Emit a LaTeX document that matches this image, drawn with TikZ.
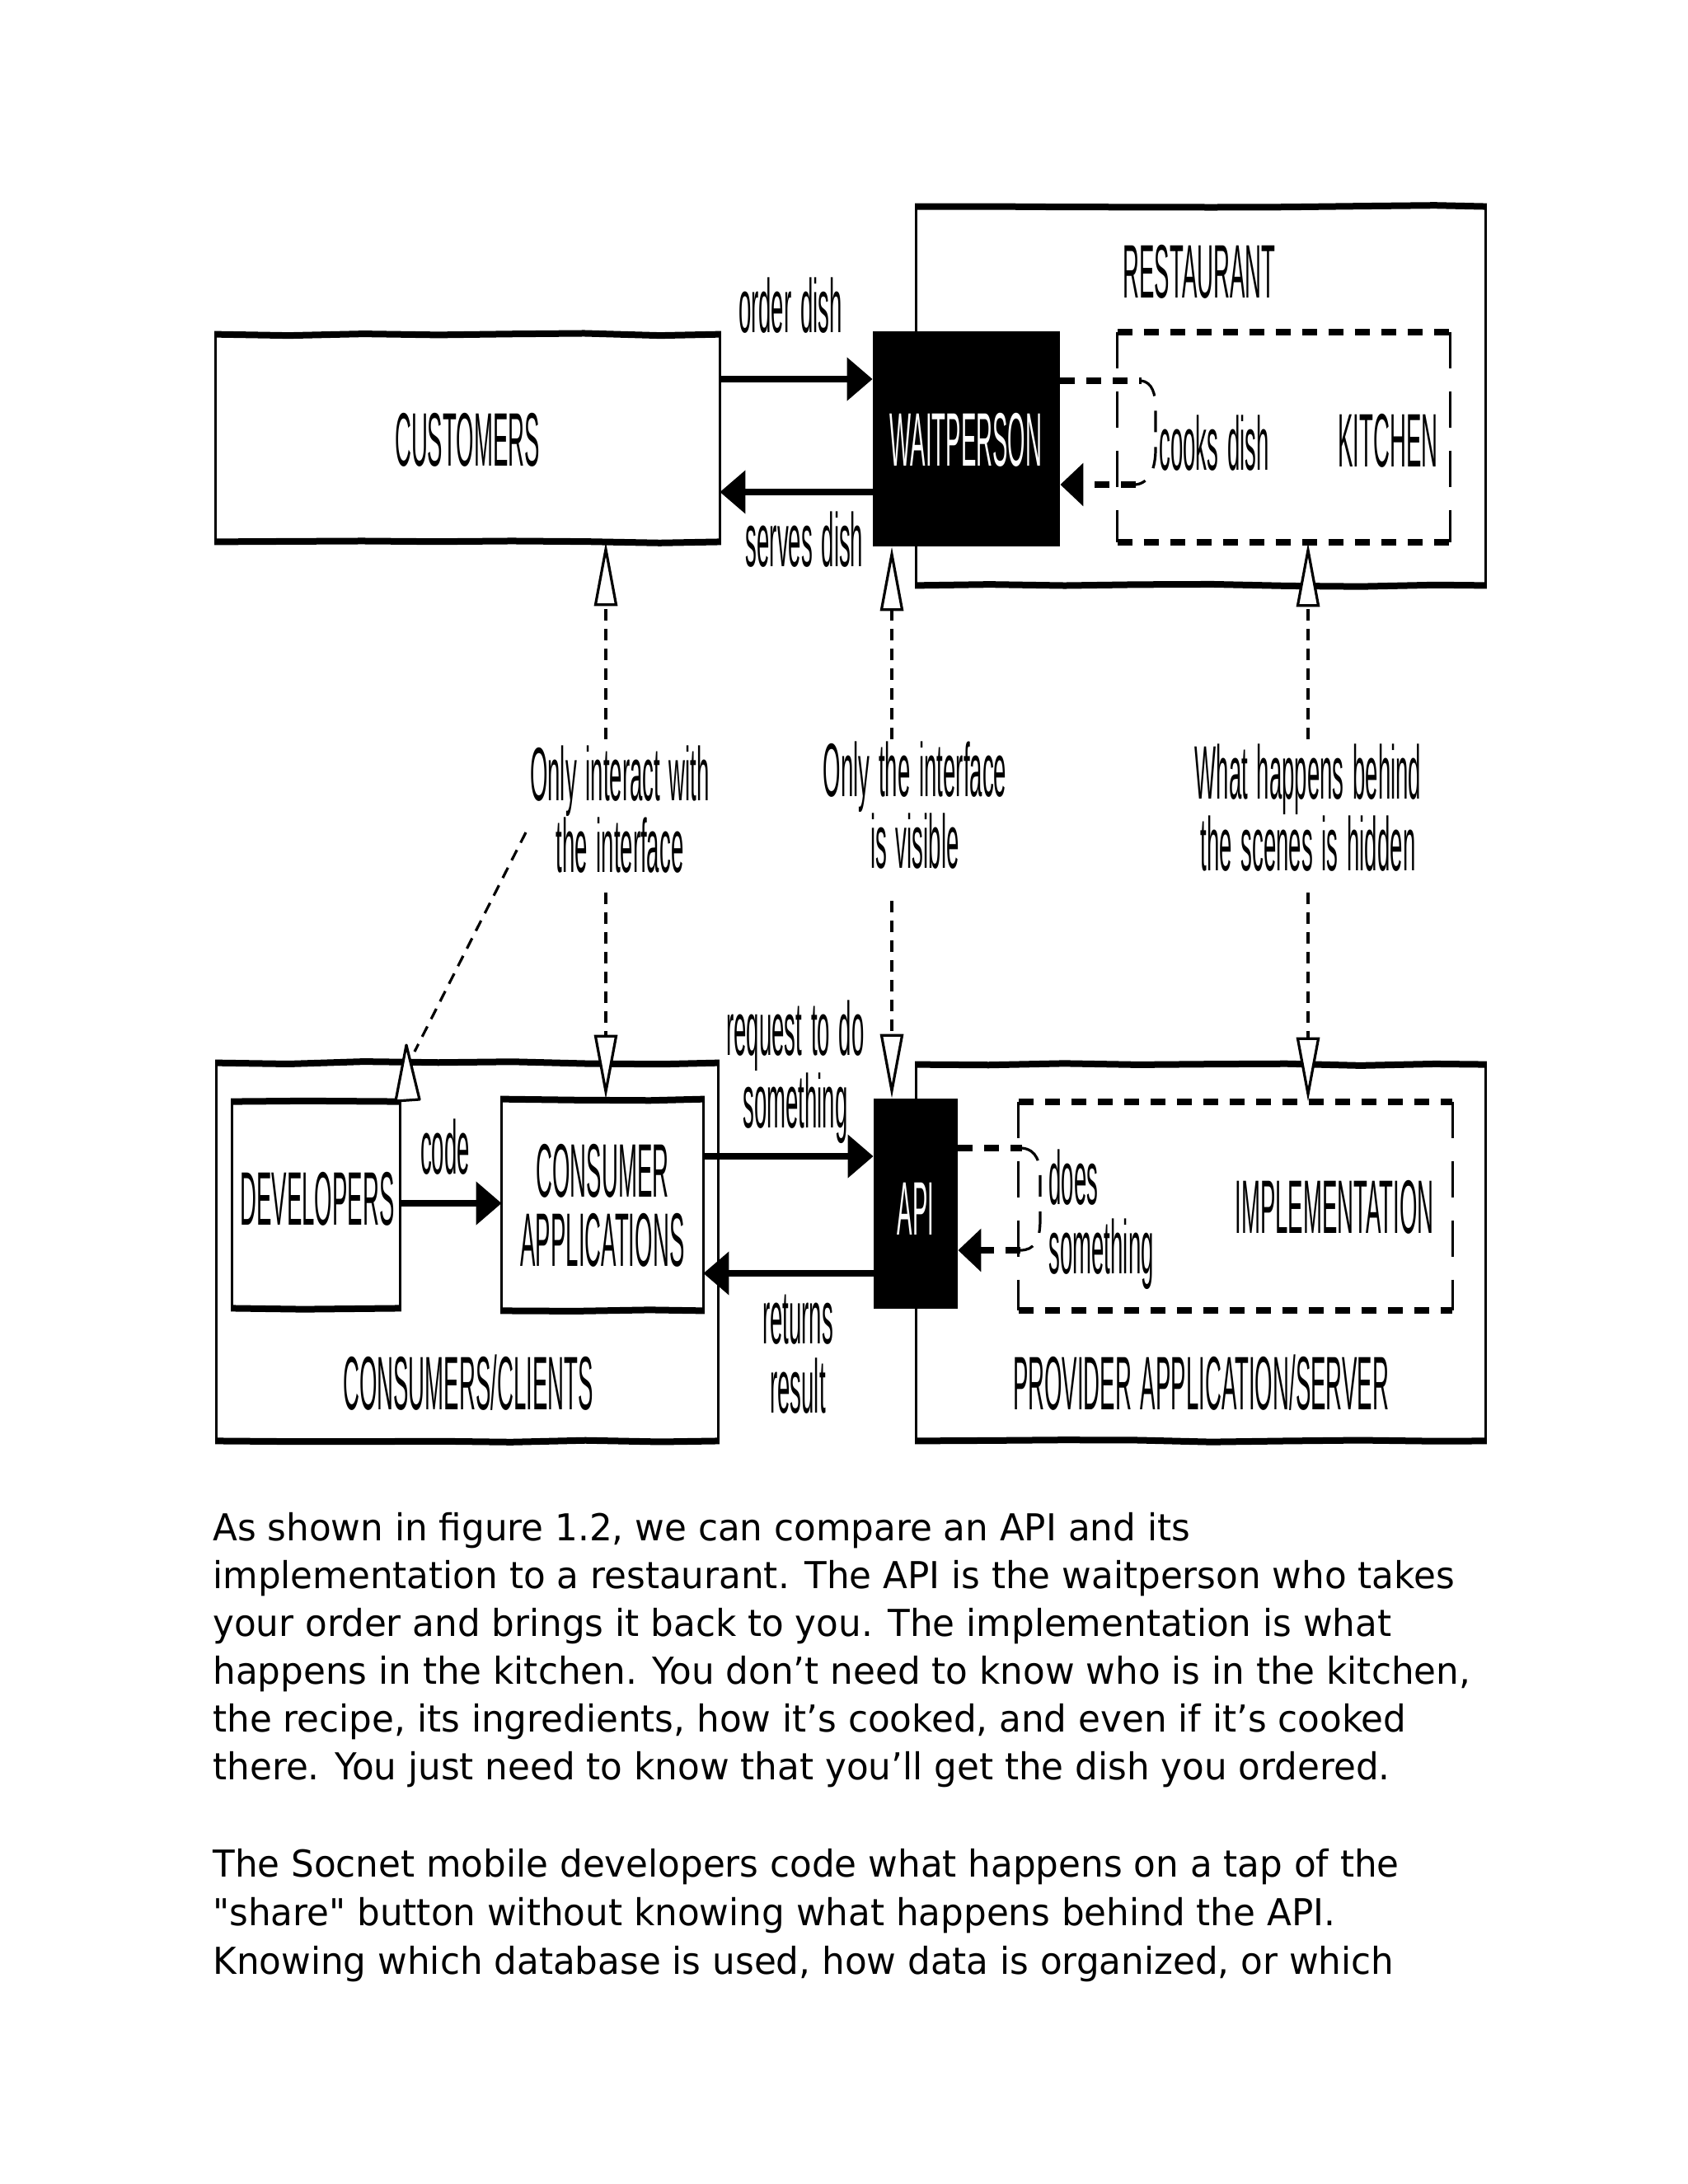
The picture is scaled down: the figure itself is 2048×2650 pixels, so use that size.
\documentclass[tikz,border=0pt]{standalone}
\usepackage{fontspec}
\setmainfont{DejaVu Sans}
\newfontfamily\handfont[FakeStretch=0.30, WordSpace=1.4]{Liberation Sans}
\newfontfamily\bodyfont[FakeStretch=0.97]{DejaVu Sans}
\usetikzlibrary{arrows.meta,decorations.pathmorphing}

\tikzset{
  px/.style={x=0.5pt,y=-0.5pt},
  area/.style 2 args={rectangle, inner sep=0pt, minimum width=#1*0.5pt, minimum height=#2*0.5pt},
  hand/.style={font=\handfont\fontsize{46}{42}\selectfont, inner sep=0pt, align=center},
  hln/.style={line width=4pt, decorate, decoration={random steps, segment length=45pt, amplitude=0.9pt}},
  vln/.style={line width=1.5pt},
  hdash/.style={line width=4pt, dash pattern=on 9pt off 7pt},
  vdash/.style={line width=1.5pt, dash pattern=on 22pt off 14pt},
  bdash/.style={line width=1.6pt, dash pattern=on 13pt off 9pt},
  conn/.style={line width=1.6pt, dash pattern=on 7pt off 5pt},
  openhead/.style={-{Triangle[fill=white, length=39pt, width=14pt]}},
  flow/.style={line width=4pt, -{Triangle[length=15.5pt, width=25.5pt]}},
  dflow/.style={hdash, -{Triangle[length=14pt, width=25.5pt]}},
  bodytext/.style={font=\bodyfont\fontsize{22.5}{29}\selectfont, anchor=base west, inner sep=0pt},
}

\newcommand\sketchbox[1]{%
  \draw[vln] (#1.north west) -- (#1.south west) (#1.north east) -- (#1.south east);
  \draw[hln] ([xshift=-0.75pt]#1.north west) -- ([xshift=0.75pt]#1.north east);
  \draw[hln] ([xshift=-0.75pt]#1.south west) -- ([xshift=0.75pt]#1.south east);}
\newcommand\dashedarea[1]{%
  \draw[vdash] (#1.north west) -- (#1.south west) (#1.north east) -- (#1.south east);
  \draw[hdash] (#1.north west) -- (#1.north east) (#1.south west) -- (#1.south east);}

\begin{document}
\begin{tikzpicture}[px]
\pgfmathsetseed{11}
\useasboundingbox[fill=white] (0,0) rectangle (2048,2650);

% ---------- upper half: restaurant ----------
\node[area={690}{459}] (rest) at (1457,480.5) {};
\sketchbox{rest}
\node[area={611}{251}] (cust) at (567.5,531.5) {};
\sketchbox{cust}
\node[area={403}{255}] (kit) at (1557.5,530.5) {};
\dashedarea{kit}
\node[area={227}{261}, fill=black] (wait) at (1172.5,532.5) {};

\node[hand] (tcust) at (567,534) {CUSTOMERS};
\node[hand] (trest) at (1455,330) {RESTAURANT};
\node[hand, text=white] (twait) at (1172,534) {WAITPERSON};
\node[hand] (tkit) at (1684,535) {KITCHEN};
\node[hand] (tcook) at (1473,538) {cooks dish};
\node[hand] (tord) at (959,371) {order dish};
\node[hand] (tserv) at (976,655) {serves dish};

\draw[flow] (cust.east |- 0,460) -- (wait.west |- 0,460);
\draw[flow] (wait.west |- 0,597) -- (cust.east |- 0,597);

\coordinate (kb1) at (1385,462);
\coordinate (kb2) at (1378,588);
\draw[hdash] (wait.east |- kb1) -- (kb1);
\draw[bdash] (kb1) .. controls (1398,464) and (1402,478) .. (1402,495) -- (1402,545)
  .. controls (1402,568) and (1395,586) .. (kb2);
\draw[dflow] (kb2) -- (wait.east |- kb2);

% ---------- lower half: API ----------
\node[area={690}{456}] (prov) at (1457,1520) {};
\sketchbox{prov}
\node[area={608}{458}] (cons) at (567,1519) {};
\sketchbox{cons}
\node[area={203}{250}] (dev) at (383.5,1462) {};
\sketchbox{dev}
\node[area={244}{256}] (capp) at (731,1462) {};
\sketchbox{capp}
\node[area={526}{253}] (impl) at (1499,1463.5) {};
\dashedarea{impl}
\node[area={102}{255}, fill=black] (api) at (1111,1460.5) {};

\node[hand] (tdev) at (385,1455) {DEVELOPERS};
\node[hand] (tcode) at (540,1392) {code};
\node[hand] (tcapp) at (731,1463) {CONSUMER\\APPLICATIONS};
\node[hand] (tcons) at (568,1678) {CONSUMERS/CLIENTS};
\node[hand] (treq) at (965,1301) {request to do\\something};
\node[hand] (tret) at (968,1643) {returns\\result};
\node[hand, text=white] (tapi) at (1111,1467) {API};
\node[hand] (timpl) at (1619,1465) {IMPLEMENTATION};
\node[hand, anchor=west, align=left] (tdoes) at (1272,1480) {does\\something};
\node[hand] (tprov) at (1457,1678) {PROVIDER APPLICATION/SERVER};

\draw[flow] (dev.east |- 0,1460) -- (capp.west |- 0,1460);
\draw[flow] (capp.east |- 0,1403) -- (api.west |- 0,1403);
\draw[flow] (api.west |- 0,1545) -- (capp.east |- 0,1545);

\coordinate (ib1) at (1240,1393);
\coordinate (ib2) at (1238,1517);
\draw[hdash] (api.east |- ib1) -- (ib1);
\draw[bdash] (ib1) .. controls (1258,1395) and (1262,1410) .. (1262,1430) -- (1262,1480)
  .. controls (1262,1505) and (1255,1517) .. (ib2);
\draw[dflow] (ib2) -- (api.east |- ib2);

% ---------- middle labels and dashed links ----------
\node[hand] (l1) at (752,982) {Only interact with\\the interface};
\node[hand] (l2) at (1110,977) {Only the interface\\is visible};
\node[hand] (l3) at (1587,980) {What happens behind\\the scenes is hidden};

\coordinate (g1t) at (735,897);  \coordinate (g1b) at (735,1083);
\coordinate (g2t) at (1082,897); \coordinate (g2b) at (1082,1093);
\coordinate (g3t) at (1587,897); \coordinate (g3b) at (1587,1083);
\draw[conn, openhead] (g1t) -- (g1t |- cust.south);
\draw[conn, openhead] (g1b) -- (g1b |- capp.north);
\draw[conn, openhead] (g2t) -- (g2t |- wait.south);
\draw[conn, openhead] (g2b) -- (g2b |- api.north);
\draw[conn, openhead] (g3t) -- (g3t |- kit.south);
\draw[conn, openhead] (g3b) -- (g3b |- impl.north);

\coordinate (d0) at (638,1010);
\coordinate (d1) at (503,1276);
\draw[conn] (d0) -- (d1);
\draw[line width=1.6pt, fill=white, line join=round] (480,1336) -- (493,1268) -- (509,1334) -- cycle;

% ---------- body text ----------
\node[bodytext] (p1) at (258,1869) {As shown in figure 1.2, we can compare an API and its};
\node[bodytext] (p2) at (258,1927) {implementation to a restaurant. The API is the waitperson who takes};
\node[bodytext] (p3) at (258,1985) {your order and brings it back to you. The implementation is what};
\node[bodytext] (p4) at (258,2043) {happens in the kitchen. You don’t need to know who is in the kitchen,};
\node[bodytext] (p5) at (258,2101) {the recipe, its ingredients, how it’s cooked, and even if it’s cooked};
\node[bodytext] (p6) at (258,2159) {there. You just need to know that you’ll get the dish you ordered.};
\node[bodytext] (q1) at (258,2277) {The Socnet mobile developers code what happens on a tap of the};
\node[bodytext] (q2) at (258,2336) {"share" button without knowing what happens behind the API.};
\node[bodytext] (q3) at (258,2395) {Knowing which database is used, how data is organized, or which};
\end{tikzpicture}
\end{document}
